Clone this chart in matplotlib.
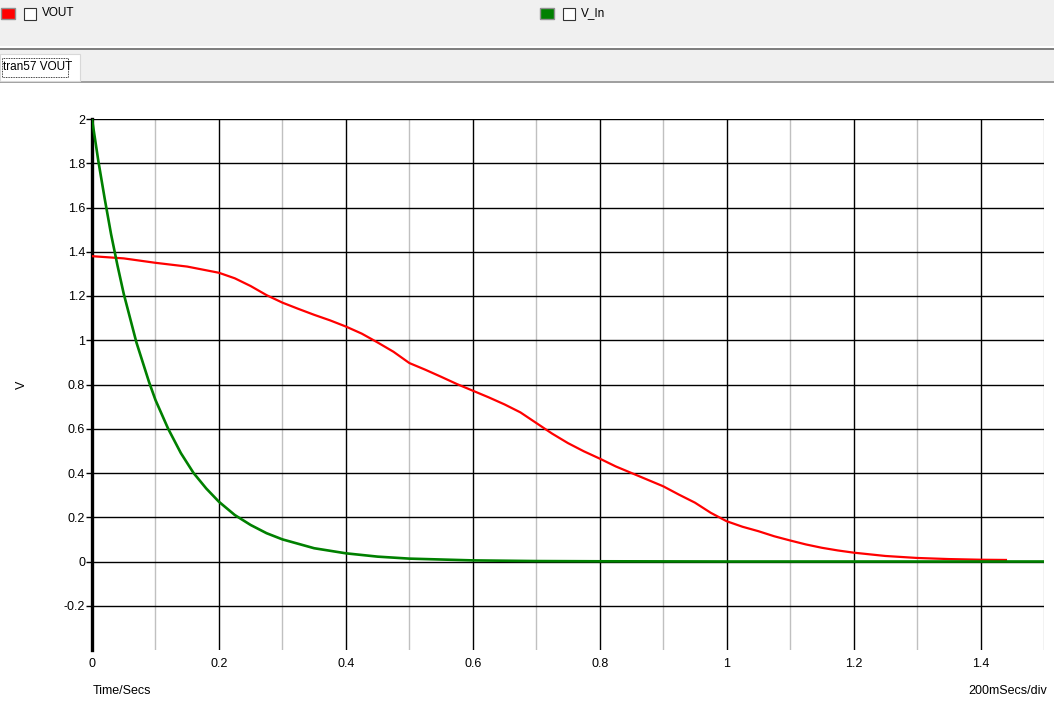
import numpy as np
import matplotlib.pyplot as plt
from matplotlib.patches import Rectangle
from matplotlib.ticker import MultipleLocator

plt.rcParams['font.family'] = ['Liberation Sans', 'DejaVu Sans']

# VOUT (red)
vout_t = [0.0, 0.05, 0.1, 0.15, 0.2, 0.225, 0.25, 0.275, 0.3, 0.325, 0.35,
          0.375, 0.4, 0.425, 0.45, 0.475, 0.5, 0.525, 0.55, 0.575, 0.6, 0.625,
          0.65, 0.675, 0.7, 0.725, 0.75, 0.775, 0.8, 0.825, 0.85, 0.875, 0.9,
          0.925, 0.95, 0.975, 1.0, 1.025, 1.05, 1.075, 1.1, 1.125, 1.15, 1.175,
          1.2, 1.25, 1.3, 1.35, 1.4, 1.44]
vout_v = [1.38, 1.37, 1.35, 1.333, 1.305, 1.28, 1.245, 1.204, 1.17, 1.142,
          1.115, 1.09, 1.062, 1.03, 0.99, 0.948, 0.897, 0.867, 0.835, 0.802,
          0.772, 0.742, 0.71, 0.674, 0.626, 0.578, 0.535, 0.498, 0.465, 0.43,
          0.40, 0.37, 0.34, 0.302, 0.266, 0.22, 0.182, 0.157, 0.137, 0.114,
          0.095, 0.077, 0.062, 0.05, 0.04, 0.025, 0.016, 0.011, 0.008, 0.007]

# V_In (green)
vin_t = [0.0, 0.01, 0.02, 0.03, 0.04, 0.05, 0.06, 0.07, 0.08, 0.09, 0.1,
         0.11, 0.12, 0.13, 0.14, 0.15, 0.16, 0.17, 0.18, 0.19, 0.2, 0.225,
         0.25, 0.275, 0.3, 0.35, 0.4, 0.45, 0.5, 0.6, 0.7, 0.8, 1.0, 1.2, 1.5]
vin_v = [2.0, 1.81, 1.64, 1.48, 1.34, 1.21, 1.10, 0.99, 0.90, 0.81, 0.73,
         0.665, 0.60, 0.545, 0.49, 0.445, 0.40, 0.365, 0.33, 0.30, 0.27, 0.21,
         0.165, 0.128, 0.10, 0.06, 0.037, 0.022, 0.013, 0.005, 0.002, 0.001,
         0.0, 0.0, 0.0]

W, H = 1054, 706
fig = plt.figure(figsize=(W / 100, H / 100), dpi=100, facecolor='white')

# window chrome drawn in pixel coordinates
bg = fig.add_axes([0, 0, 1, 1], zorder=0)
bg.set_xlim(0, W)
bg.set_ylim(H, 0)
bg.axis('off')
bg.add_patch(Rectangle((0, 0), W, 82, color='#f0f0f0', lw=0))
bg.add_patch(Rectangle((0, 46), W, 1.5, color='white', lw=0))
bg.add_patch(Rectangle((0, 47.5), W, 2, color='#808080', lw=0))
bg.add_patch(Rectangle((0, 81), W, 1.5, color='#a0a0a0', lw=0))
# tab
bg.add_patch(Rectangle((0, 54), 80, 27, facecolor='white', edgecolor='#d8d8d8', lw=0.8))
bg.add_patch(Rectangle((1.5, 58), 66, 19, facecolor='none', edgecolor='black',
                       lw=0.6, ls=(0, (1, 1))))
bg.text(3, 67.5, 'tran57 VOUT', fontsize=8.5, va='center', ha='left')

# legend entries
for x0, col, name in [(1, '#ff0000', 'VOUT'), (540, '#008000', 'V_In')]:
    bg.add_patch(Rectangle((x0, 8), 14, 11, facecolor=col, edgecolor='#909090', lw=1))
    bg.add_patch(Rectangle((x0 + 23, 8), 12, 12, facecolor='white', edgecolor='#333333', lw=0.8))
    bg.text(x0 + 41, 13.5, name, fontsize=8.5, va='center', ha='left')

# plot area
left, right, top, bottom = 92, 1044, 119, 650
ax = fig.add_axes([left / W, 1 - bottom / H, (right - left) / W, (bottom - top) / H], zorder=2)
ax.patch.set_alpha(0)
ax.set_xlim(0, 1.5)
ax.set_ylim(-0.4, 2.0)

ax.xaxis.set_major_locator(MultipleLocator(0.2))
ax.xaxis.set_minor_locator(MultipleLocator(0.1))
ax.yaxis.set_major_locator(MultipleLocator(0.2))
ax.grid(which='major', color='black', lw=1.0)
ax.grid(which='minor', axis='x', color='#c0c0c0', lw=1.0)
ax.set_axisbelow(True)

for s in ['top', 'right', 'bottom']:
    ax.spines[s].set_visible(False)
ax.spines['left'].set_linewidth(2.4)

xt = np.arange(0, 1.5, 0.2)
ax.set_xticks(xt)
ax.set_xticklabels(['0' if abs(v) < 1e-9 else f'{v:g}' for v in np.round(xt, 1)])
yt = np.arange(-0.2, 2.01, 0.2)
ax.set_yticks(yt)
ax.set_yticklabels(['0' if abs(v) < 1e-9 else f'{v:g}' for v in np.round(yt, 1)])

ax.tick_params(axis='x', which='both', length=0, pad=6, labelsize=9)
ax.tick_params(axis='y', length=4, width=1, pad=1, labelsize=9)

ax.plot(vout_t, vout_v, color='#ff0000', lw=1.6, zorder=3)
ax.plot(vin_t, vin_v, color='#008000', lw=1.9, zorder=4)

bg.text(22, 385, 'V', fontsize=9, va='center', ha='center', rotation=90)
bg.text(93, 691, 'Time/Secs', fontsize=9, va='center', ha='left')
bg.text(1047, 691, '200mSecs/div', fontsize=9, va='center', ha='right')

fig.savefig('out.png', dpi=100, facecolor='white')
